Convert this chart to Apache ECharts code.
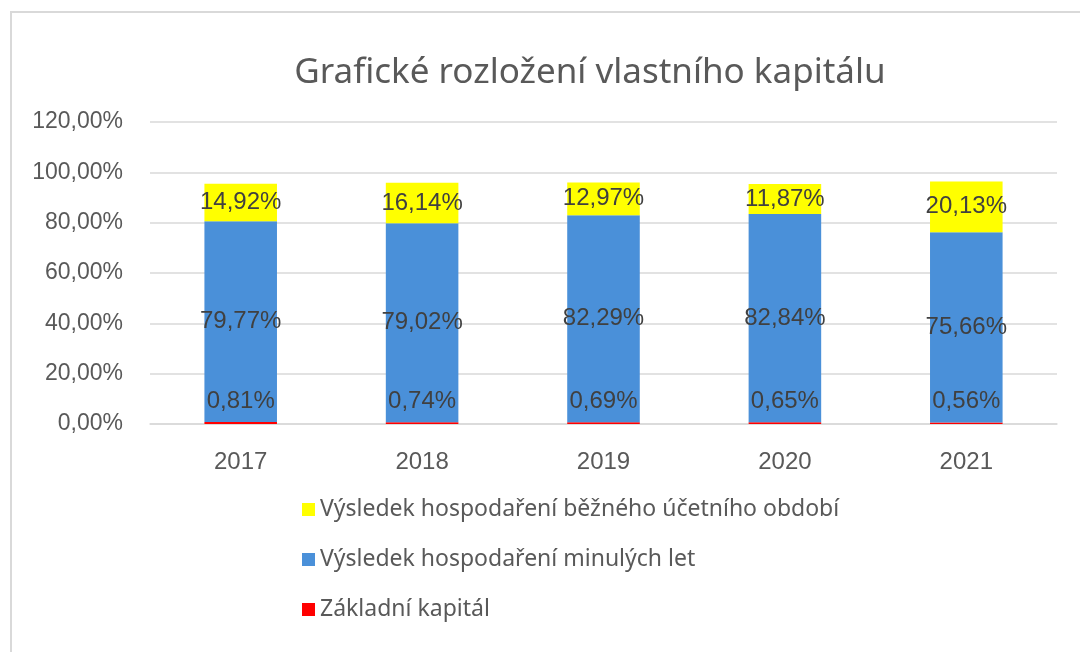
<!DOCTYPE html>
<html>
<head>
<meta charset="utf-8">
<script src="https://cdn.jsdelivr.net/npm/echarts@6/dist/echarts.min.js"></script>
<style>
  html, body { margin: 0; padding: 0; background: #fff; overflow: hidden; }
  #frame { position: absolute; left: 10px; top: 11px; width: 1100px; height: 700px; border: 2px solid #d9d9d9; box-sizing: border-box; }
  #chart { position: absolute; left: 0; top: 0; width: 1080px; height: 652px; }
</style>
</head>
<body>
<div id="frame"></div>
<div id="chart"></div>
<script>
const years = ['2017', '2018', '2019', '2020', '2021']
const zakladniKapital = [0.81, 0.74, 0.69, 0.65, 0.56]
const minuleLeta = [79.77, 79.02, 82.29, 82.84, 75.66]
const bezneObdobi = [14.92, 16.14, 12.97, 11.87, 20.13]
const yTicks = [0, 20, 40, 60, 80, 100, 120]

// 12.34 -> "12,34%"
const fmt = (v) => v.toFixed(2).replace('.', ',') + '%'

const labelStyle = {
    show: true,
    color: '#404040',
    fontSize: 24,
    fontFamily: 'Liberation Sans, Arial, sans-serif',
    formatter: (p) => fmt(p.value)
}

let myChart = echarts.init(document.getElementById('chart'))
myChart.setOption({
    animation: false,
    title: {
        text: 'Grafické rozložení vlastního kapitálu',
        left: 585,
        textAlign: 'center',
        top: 51,
        textStyle: {
            color: '#595959',
            fontSize: 35,
            fontWeight: 'normal',
            fontFamily: 'Noto Sans, sans-serif'
        }
    },
    grid: {
        left: 150,
        right: 23,
        top: 122,
        bottom: 228
    },
    legend: {
        orient: 'vertical',
        left: 297,
        top: 493,
        itemWidth: 13,
        itemHeight: 13,
        itemGap: 27,
        icon: 'rect',
        data: ['Výsledek hospodaření běžného účetního období', 'Výsledek hospodaření minulých let', 'Základní kapitál'],
        textStyle: {
            color: '#595959',
            fontSize: 23,
            fontFamily: 'Noto Sans, sans-serif'
        }
    },
    xAxis: {
        type: 'category',
        data: years,
        axisTick: { show: false },
        axisLine: { show: true, lineStyle: { color: '#d9d9d9', width: 1.5 } },
        axisLabel: {
            color: '#595959',
            fontSize: 24,
            fontFamily: 'Liberation Sans, Arial, sans-serif',
            margin: 26
        }
    },
    yAxis: {
        type: 'value',
        min: yTicks[0],
        max: yTicks[yTicks.length - 1],
        interval: 20,
        axisLine: { show: false },
        axisTick: { show: false },
        splitLine: { lineStyle: { color: '#d9d9d9', width: 1.5 } },
        axisLabel: {
            color: '#595959',
            fontSize: 23,
            fontFamily: 'Liberation Sans, Arial, sans-serif',
            margin: 27,
            formatter: (v) => fmt(v)
        }
    },
    series: [
        {
            name: 'Základní kapitál',
            type: 'bar',
            stack: 'total',
            barWidth: '40%',
            data: zakladniKapital,
            itemStyle: { color: '#ff0000' },
            label: Object.assign({}, labelStyle, { position: 'top', distance: 9 })
        },
        {
            name: 'Výsledek hospodaření minulých let',
            type: 'bar',
            stack: 'total',
            data: minuleLeta,
            itemStyle: { color: '#4a90d9' },
            label: Object.assign({}, labelStyle, { position: 'inside' })
        },
        {
            name: 'Výsledek hospodaření běžného účetního období',
            type: 'bar',
            stack: 'total',
            data: bezneObdobi,
            itemStyle: { color: '#ffff00' },
            label: Object.assign({}, labelStyle, { position: 'inside' })
        }
    ]
})
</script>
</body>
</html>
